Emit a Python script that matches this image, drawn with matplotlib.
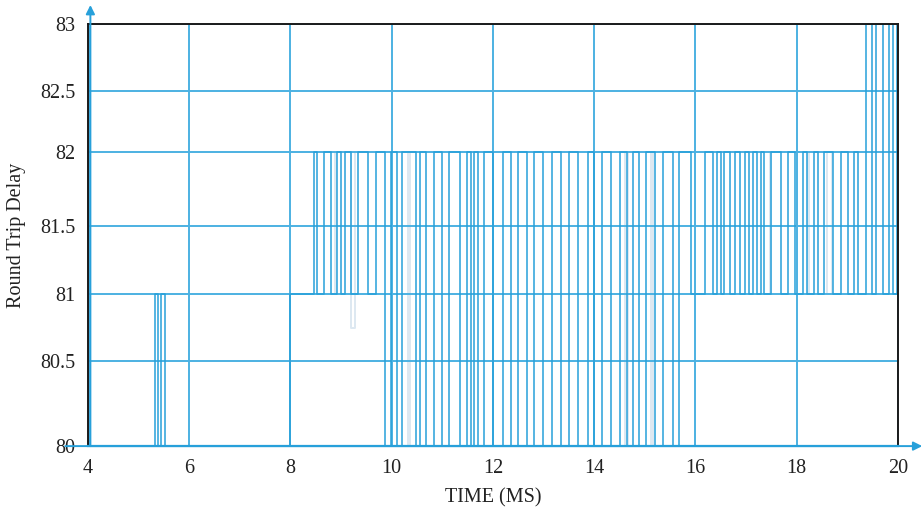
import numpy as np
import matplotlib
matplotlib.use("Agg")
import matplotlib.pyplot as plt

# round trip delay samples (change points, held until the next one)
time_ms = [4.00, 4.03, 5.33, 5.38, 5.45, 5.52, 8.00,
           8.47, 8.53, 8.67, 8.81, 8.92, 9.00, 9.08, 9.20, 9.34, 9.54, 9.68,
           9.87, 9.99, 10.11, 10.21, 10.47, 10.55, 10.67, 10.84, 11.00, 11.14,
           11.34, 11.48, 11.56, 11.63, 11.71, 11.83, 12.01, 12.19, 12.35, 12.50,
           12.68, 12.82, 12.98, 13.16, 13.34, 13.51, 13.67, 13.87, 13.99, 14.15,
           14.34, 14.50, 14.64, 14.76, 14.88, 15.02, 15.21, 15.35, 15.55, 15.67,
           15.91, 16.18, 16.34, 16.42, 16.50, 16.56, 16.68, 16.78, 16.88, 16.97,
           17.05, 17.13, 17.21, 17.29, 17.35, 17.49, 17.69, 17.83, 17.96, 18.12,
           18.20, 18.34, 18.42, 18.54, 18.72, 18.87, 19.01, 19.13, 19.21,
           19.37, 19.49, 19.57, 19.70, 19.82, 19.90, 19.98, 20.00]
rtt = [83, 80, 81, 80, 81, 80, 81,
       82, 81, 82, 81, 82, 81, 82, 81, 82, 81, 82,
       80, 82, 80, 82, 80, 82, 80, 82, 80, 82,
       80, 82, 80, 82, 80, 82, 80, 82, 80, 82,
       80, 82, 80, 82, 80, 82, 80, 82, 80, 82,
       80, 82, 80, 82, 80, 82, 80, 82, 80, 82,
       81, 82, 81, 82, 81, 82, 81, 82, 81, 82,
       81, 82, 81, 82, 81, 82, 81, 82, 81, 82,
       81, 82, 81, 82, 81, 82, 81, 82, 81,
       83, 81, 83, 81, 83, 81, 83, 83]

# faint second trace
faint_t = [8.00, 8.87, 8.89, 9.19, 9.28, 10.33, 10.37, 14.60, 14.66,
           15.13, 15.17, 17.47, 17.50, 18.22, 18.25, 18.60, 18.70, 20.00]
faint_v = [82, 81, 82, 80.75, 82, 80, 82, 80, 82,
           80, 82, 81, 82, 81, 82, 81, 82, 82]

x_ticks = [4, 6, 8, 10, 12, 14, 16, 18, 20]
y_ticks = [80, 80.5, 81, 81.5, 82, 82.5, 83]
y_tick_labels = ["80", "80.5", "81", "81.5", "82", "82.5", "83"]
# the source axis is not evenly spaced
y_place = [0, 0.2008, 0.3597, 0.5203, 0.6965, 0.8418, 1.0]

blue = "#27a0da"
grid_blue = "#4cb1e2"

plt.rcParams["font.family"] = ["Liberation Serif", "DejaVu Serif"]

fig = plt.figure(figsize=(9.21, 5.11), dpi=100)
ax = fig.add_axes([0.0955, 0.127, 0.8795, 0.826])

ax.set_yscale("function", functions=(lambda v: np.interp(v, y_ticks, y_place),
                                     lambda p: np.interp(p, y_place, y_ticks)))

ax.step(faint_t, faint_v, where="post", color="#dde8f1", lw=1.4, zorder=0.3)
ax.step(time_ms, rtt, where="post", color=blue, lw=1.1, zorder=2)

ax.set_xlim(4, 20)
ax.set_ylim(80, 83)
ax.set_xticks(x_ticks)
ax.set_xticklabels([str(v) for v in x_ticks])
ax.set_yticks(y_ticks)
ax.set_yticklabels(y_tick_labels)
ax.minorticks_off()
ax.tick_params(length=0, labelsize=14.5, colors="#222222", pad=9)
ax.set_axisbelow(True)
ax.grid(True, color=grid_blue, lw=1.4)

for side in ["left", "top", "right"]:
    ax.spines[side].set_color("#1a1a1a")
    ax.spines[side].set_linewidth(1.4)
ax.spines["bottom"].set_color(blue)
ax.spines["bottom"].set_linewidth(1.6)

ax.set_xlabel("TIME (MS)", fontsize=14.5, color="#222222", labelpad=8)
ax.set_ylabel("Round Trip Delay", fontsize=14.5, color="#222222", labelpad=10)

arrow = dict(arrowstyle="-|>", color=blue, lw=1.4, mutation_scale=13, shrinkA=0, shrinkB=0)
ax.annotate("", xy=(0.003, 1.045), xytext=(0.003, 0.0), xycoords="axes fraction",
            textcoords="axes fraction", arrowprops=arrow, annotation_clip=False)
ax.annotate("", xy=(1.03, 0.0), xytext=(-0.028, 0.0), xycoords="axes fraction",
            textcoords="axes fraction", arrowprops=arrow, annotation_clip=False)

fig.savefig("out.png", dpi=100)
